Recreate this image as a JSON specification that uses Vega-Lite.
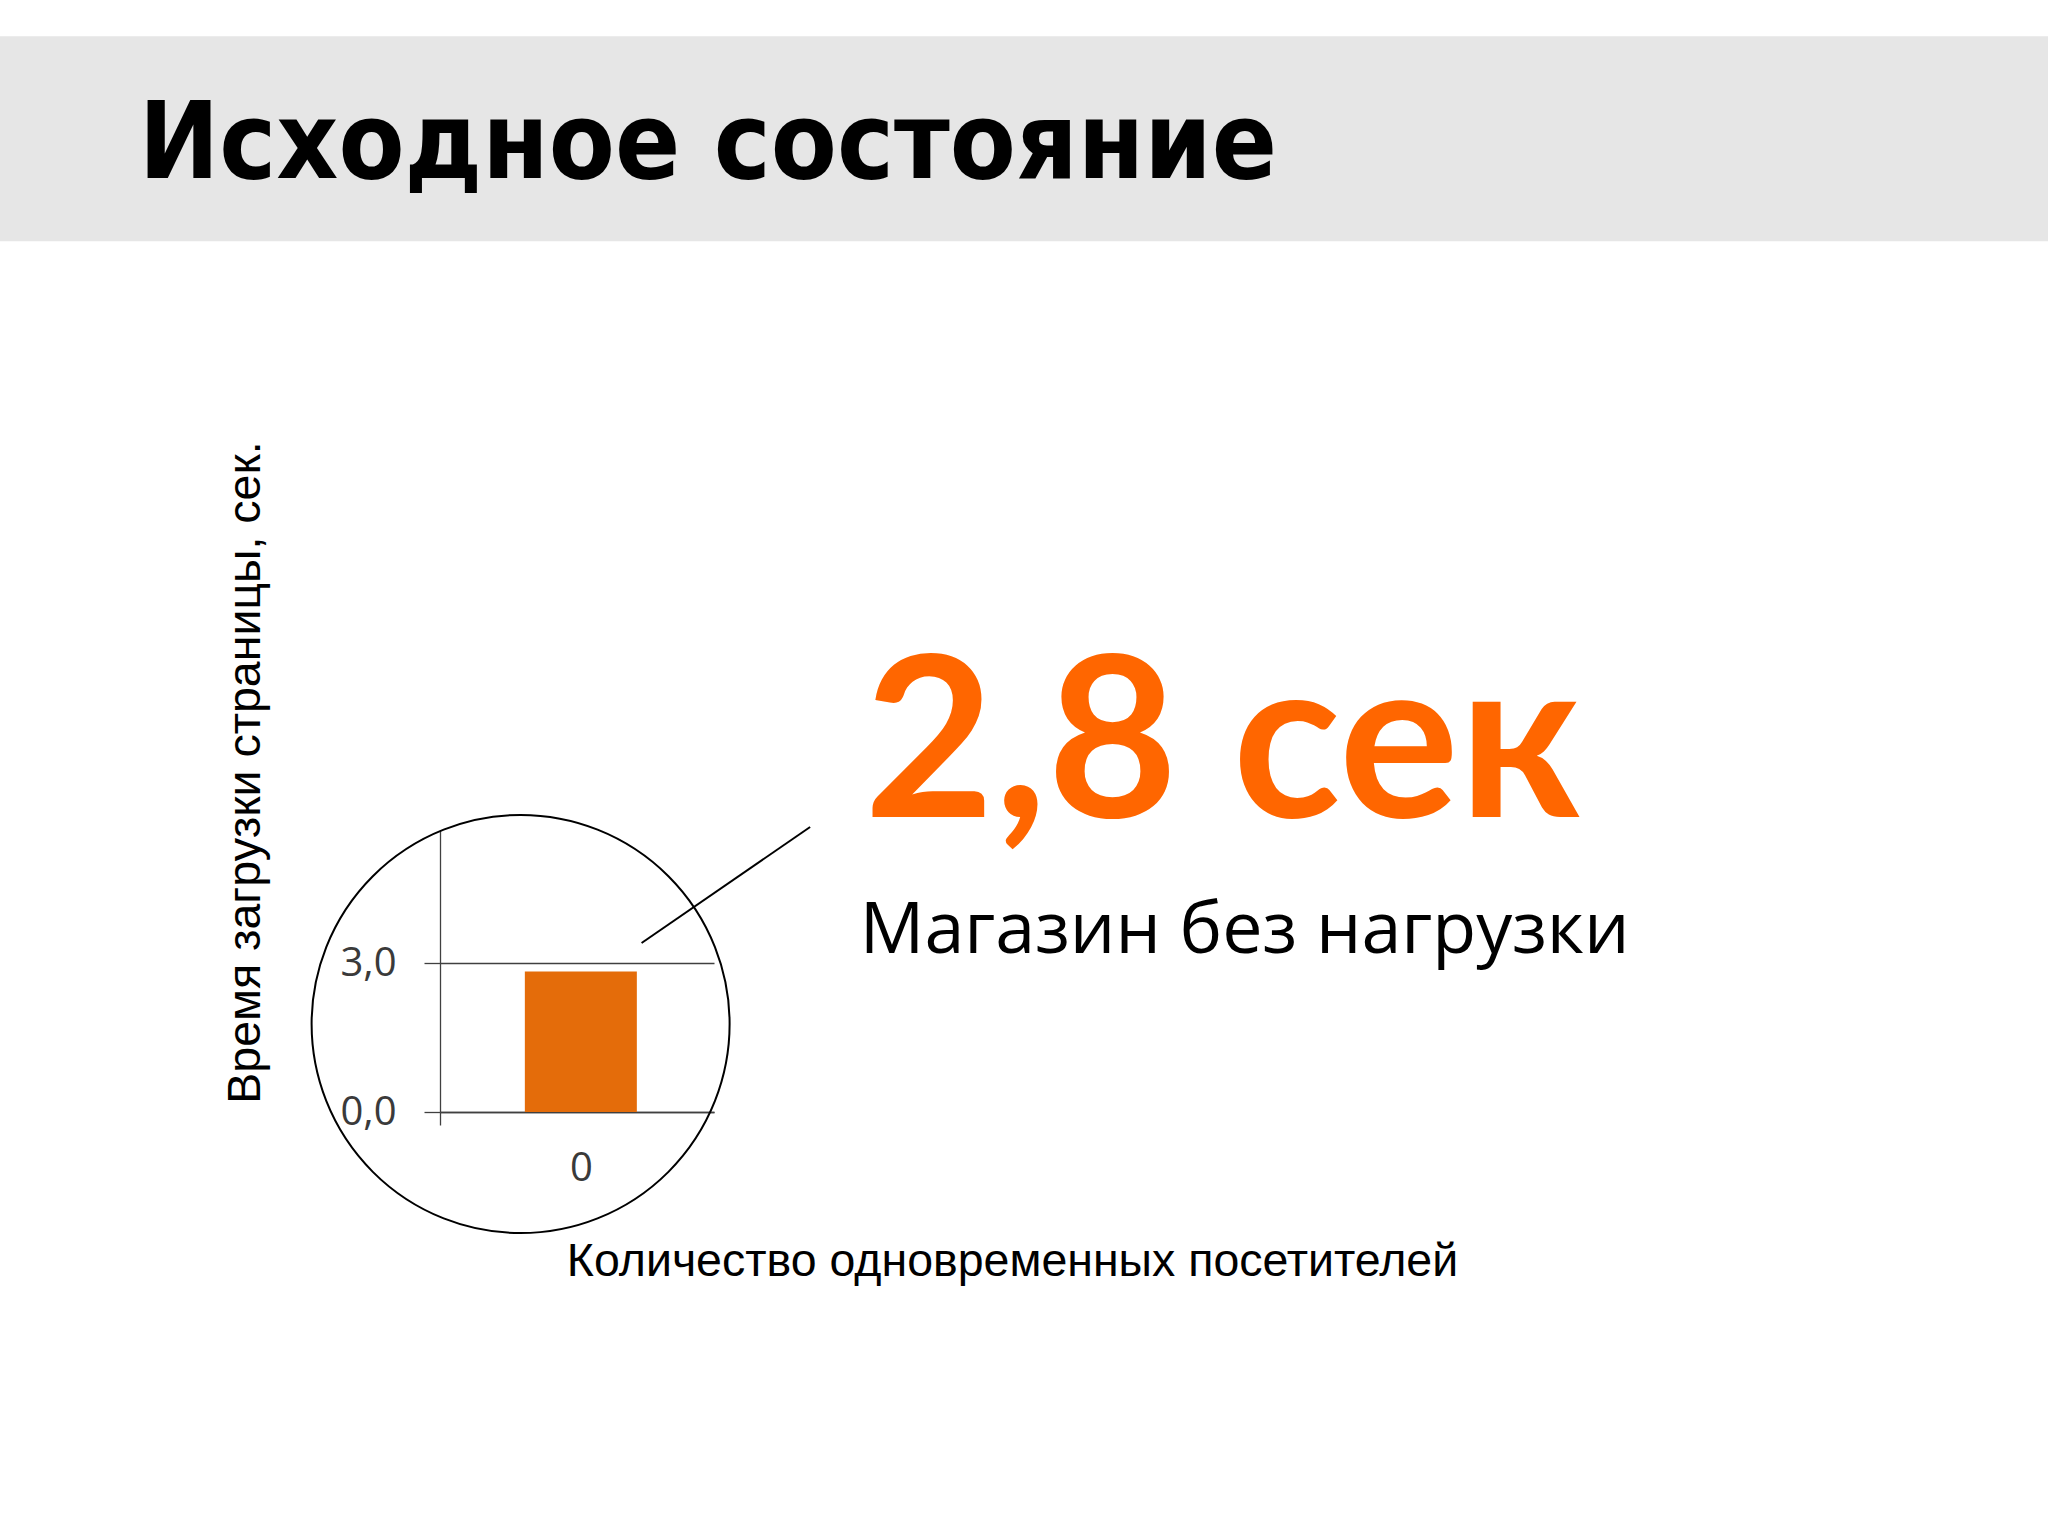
{
  "$schema": "https://vega.github.io/schema/vega-lite/v6.json",
  "autosize": "none",
  "width": 274,
  "height": 282,
  "padding": {"left": 440, "top": 830, "right": 1334, "bottom": 424},
  "background": "white",
  "config": {"view": {"stroke": null}},
  "layer": [
    {
      "data": {"values": [{}]},
      "mark": {"type": "rect", "fill": "#e6e6e6"},
      "encoding": {
        "x": {"datum": -4.6, "type": "quantitative"},
        "x2": {"datum": 11.6},
        "y": {"datum": 21.67, "type": "quantitative"},
        "y2": {"datum": 17.54}
      }
    },
    {
      "data": {"values": [{}]},
      "mark": {"type": "text", "text": "Исходное состояние", "font": "DejaVu Sans Condensed", "fontWeight": "bold", "fontSize": 107, "align": "left", "baseline": "alphabetic", "fill": "#000000"},
      "encoding": {
        "x": {"datum": -3.45, "type": "quantitative"},
        "y": {"datum": 18.81, "type": "quantitative"}
      }
    },
    {
      "data": {"values": [{"visitors": 0, "time": 2.83}]},
      "mark": {"type": "bar", "width": 112, "color": "#E46C0A"},
      "encoding": {
        "x": {
          "field": "visitors", "type": "quantitative",
          "scale": {"domain": [-1.06, 1.0], "nice": false, "zero": false},
          "axis": {
            "title": "Количество одновременных посетителей",
            "values": [0],
            "format": "d",
            "grid": false,
            "domain": true, "domainColor": "#404040", "domainWidth": 1.3,
            "ticks": true, "tickSize": 13, "tickColor": "#404040", "tickWidth": 1.3,
            "tickOffset": -141, "labelOffset": 141,
            "labelFont": "Open Sans", "labelFontSize": 40, "labelColor": "#3a3a3a",
            "labelBaseline": "alphabetic", "labelPadding": 55,
            "titleFont": "Liberation Sans", "titleFontSize": 46.5, "titleFontWeight": "normal", "titleColor": "#000000",
            "titleX": 572, "titleY": 163, "titleAlign": "center", "titleBaseline": "alphabetic",
            "zindex": 0
          }
        },
        "y": {
          "field": "time", "type": "quantitative",
          "scale": {"domain": [0, 5.68], "nice": false},
          "axis": {
            "title": "Время загрузки страницы, сек.",
            "values": [0, 3],
            "labelExpr": "replace(format(datum.value, '.1f'), '.', ',')",
            "grid": true, "gridColor": "#404040", "gridWidth": 1.3, "gridOpacity": 1,
            "domain": true, "domainColor": "#404040", "domainWidth": 1.3,
            "ticks": true, "tickSize": 16, "tickColor": "#404040", "tickWidth": 1.3,
            "labelFont": "Open Sans", "labelFontSize": 40, "labelColor": "#3a3a3a",
            "labelPadding": 28,
            "titleFont": "Liberation Sans", "titleFontSize": 46.5, "titleFontWeight": "normal", "titleColor": "#000000",
            "titleX": -181, "titleY": -58, "titleAngle": 270, "titleAlign": "center", "titleBaseline": "alphabetic",
            "zindex": 0
          }
        }
      }
    },
    {
      "data": {"values": [{}]},
      "mark": {"type": "point", "shape": "circle", "filled": false, "size": 174724, "stroke": "#000000", "strokeWidth": 2, "opacity": 1},
      "encoding": {
        "x": {"datum": -0.47, "type": "quantitative"},
        "y": {"datum": 1.772, "type": "quantitative"}
      }
    },
    {
      "data": {"values": [{}]},
      "mark": {"type": "rule", "stroke": "#000000", "strokeWidth": 2},
      "encoding": {
        "x": {"datum": 0.474, "type": "quantitative"},
        "y": {"datum": 3.404, "type": "quantitative"},
        "x2": {"datum": 1.789},
        "y2": {"datum": 5.74}
      }
    },
    {
      "data": {"values": [{}]},
      "mark": {"type": "text", "text": "2,8 сек", "font": "Lato", "fontWeight": "bold", "fontSize": 225, "align": "left", "baseline": "alphabetic", "fill": "#FF6600"},
      "encoding": {
        "x": {"datum": 2.21, "type": "quantitative"},
        "y": {"datum": 5.94, "type": "quantitative"}
      }
    },
    {
      "data": {"values": [{}]},
      "mark": {"type": "text", "text": "Магазин без нагрузки", "font": "Open Sans", "fontSize": 71.8, "align": "left", "baseline": "alphabetic", "fill": "#000000"},
      "encoding": {
        "x": {"datum": 2.177, "type": "quantitative"},
        "y": {"datum": 3.2, "type": "quantitative"}
      }
    }
  ]
}
